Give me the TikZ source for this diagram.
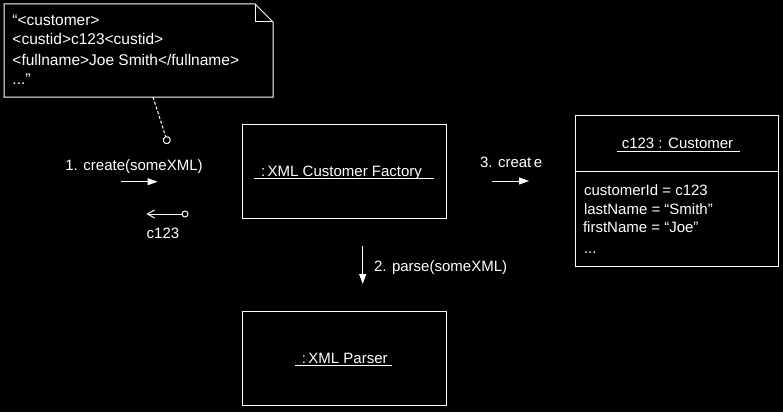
\documentclass[tikz,border=0pt]{standalone}
\usepackage{fontspec}
\setmainfont{Liberation Sans}
\usetikzlibrary{arrows.meta}
\begin{document}
\begin{tikzpicture}[x=1pt,y=-1pt,
  every node/.style={inner sep=0pt,outer sep=0pt,text=white,font=\fontsize{15}{18}\selectfont},
  notetxt/.style={anchor=base west,font=\fontsize{15.5}{18}\selectfont},
  ln/.style={draw=white,line width=1pt},
  objbox/.style={ln,rectangle,anchor=north west},
  txt/.style={anchor=base west},
  ctxt/.style={anchor=base},
  msg/.style={ln,-{Triangle[length=10pt,width=7pt]}},
  ret/.style={ln,{Straight Barb[length=7pt,width=8pt]}-{Circle[open,length=7pt]}}]
\fill[black] (0,0) rectangle (783,412);
\useasboundingbox (0,0) rectangle (783,412);
% note
\draw[ln] (4,4) -- (255,4) -- (273,22) -- (273,97) -- (4,97) -- cycle;
\draw[ln] (255,4) -- (255,22) -- (273,22);
\coordinate (notept) at (153,97);
\node[notetxt] (n1) at (12.5,25.5) {“<customer>};
\node[notetxt] (n2) at (12.5,45) {<custid>c123<custid>};
\node[notetxt] (n3) at (12.5,65) {<fullname>Joe Smith</fullname>};
\node[notetxt] (n4) at (12.5,84.5) {...”};
% factory
\node[objbox,minimum width=204.5pt,minimum height=94pt] (fac) at (242.3,124.3) {};
\node[ctxt] (facl) at (341.5,176) {:\,XML Customer Factory};
\draw[ln] (254,178.8) -- (434,178.8);
% parser
\node[objbox,minimum width=204pt,minimum height=94pt] (par) at (242,311.7) {};
\node[ctxt] (parl) at (344.7,363.3) {:\,XML Parser};
\draw[ln] (295,365.8) -- (392,365.8);
% customer
\node[objbox,minimum width=202.6pt,minimum height=150.3pt] (cus) at (575.7,115.7) {};
\draw[ln] (575.7,171) -- (778.3,171);
\node[ctxt] (cusl) at (677.5,148.3) {c123 : Customer};
\draw[ln] (617,151) -- (740,151);
\node[txt] (a1) at (584,195) {customerId = c123};
\node[txt] (a2) at (584,214) {lastName = “Smith”};
\node[txt] (a3) at (583,232.7) {firstName = “Joe”};
\node[txt] (a4) at (584,253) {...};
% message 1
\coordinate (m1s) at (120.7,181.7);
\coordinate (m1e) at (157.5,181.7);
\draw[msg] (m1s) -- (m1e);
\node[ctxt] (m1l) at (134,170) {1. create(someXML)};
\coordinate (link) at (168,144);
\draw[ln,dashed,dash pattern=on 3pt off 2pt,-{Circle[open,length=8pt]}] (notept) -- (link);
% return
\coordinate (r1s) at (188.5,214);
\coordinate (r1e) at (146.5,214);
\draw[ret] (r1e) -- (r1s);
\node[ctxt] (r1l) at (163,238) {c123};
% message 2
\coordinate (m2s) at (362.7,246);
\coordinate (m2e) at (362.7,284);
\draw[msg] (m2s) -- (m2e);
\node[txt] (m2l) at (374,271.7) {2. parse(someXML)};
% message 3
\coordinate (m3s) at (492.3,181);
\coordinate (m3e) at (529,181);
\draw[msg] (m3s) -- (m3e);
\node[txt] (m3l) at (480,167.3) {3. creat\,e};
\end{tikzpicture}
\end{document}
